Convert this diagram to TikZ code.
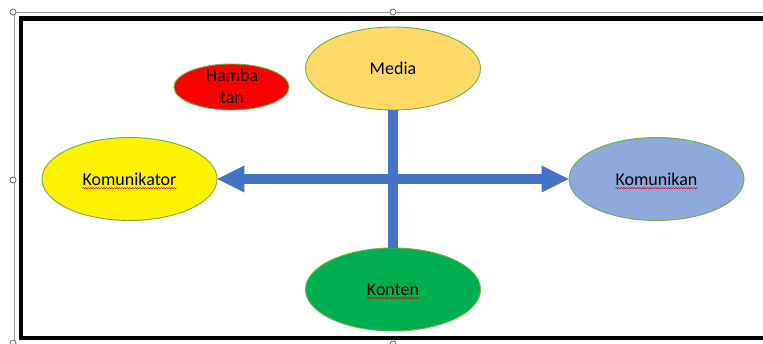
\documentclass[tikz,border=0pt]{standalone}
\usepackage{fontspec}
\setmainfont{Carlito}
\usetikzlibrary{shapes.geometric,arrows.meta,decorations.pathmorphing}
\definecolor{barblue}{HTML}{4472C4}
\definecolor{edgegreen}{HTML}{70AD47}
\definecolor{mediaY}{HTML}{FFD966}
\definecolor{kanBlue}{HTML}{8EA9DB}
\definecolor{kontenG}{HTML}{00B050}
\begin{document}
\begin{tikzpicture}[x=1pt,y=-1pt,
  oval/.style={ellipse, draw=edgegreen, line width=0.9pt, inner sep=0pt,
    minimum width=175pt, minimum height=83pt},
  txt/.style={inner sep=0pt, font=\fontsize{18}{22}\selectfont},
  squig/.style={draw=red!85!black, line width=0.5pt, decorate,
    decoration={snake, amplitude=0.6pt, segment length=2.6pt}},
  bar/.style={draw=barblue, line width=9.5pt},
  frame/.style={draw=black, line width=4.6pt},
  sel/.style={draw=gray!80, line width=0.8pt},
  handle/.style={circle, draw=gray!70!black, fill=white, inner sep=0pt,
    minimum size=6pt, line width=0.7pt},
  tip/.tip={Triangle[length=27pt,width=27pt,line width=0pt]}]
\useasboundingbox (0,0) rectangle (763,344);
\fill[white] (0,0) rectangle (763,344);
\draw[sel] (13,12) -- (766,12);
\draw[sel] (14,12) -- (14,348);
\draw[frame] (20.8,18.8) rectangle (772,338);
% ellipses
\node[oval, fill=mediaY] (media) at (393,68.5) {};
\node[oval, fill=yellow] (kator) at (129.5,179) {};
\node[oval, fill=kanBlue] (kan) at (656.5,179) {};
\node[oval, fill=kontenG] (konten) at (393,289.5) {};
\node[oval, fill=red, minimum width=115pt, minimum height=46pt] (hamb) at (231.5,87) {};
% texts
\node[txt, anchor=base] (tmedia) at (393,75) {Media};
\node[txt, anchor=base] (tkator) at (129.5,186) {Komunikator};
\node[txt, anchor=base] (tkan) at (656.5,186) {Komunikan};
\node[txt, anchor=base] (tkonten) at (393,296) {Konten};
\node[txt, anchor=base] (thamba) at (232,82) {Hamba};
\node[txt, anchor=base] (ttan) at (232,104) {tan};
% spelling squiggles
\foreach \t in {tkator,tkan,tkonten,thamba,ttan}
  \draw[squig] ([yshift=-1.8pt]\t.south west) -- ([yshift=-1.8pt]\t.south east);
% connectors
\draw[bar] (media.south) -- (konten.north);
\draw[bar, tip-tip] (kator.east) -- (kan.west);
% selection handles
\node[handle] (h1) at (13,12) {};
\node[handle] (h2) at (393,12) {};
\node[handle] (h3) at (13,180) {};
\node[handle] (h4) at (13,343) {};
\node[handle] (h5) at (393,344) {};
\end{tikzpicture}
\end{document}
